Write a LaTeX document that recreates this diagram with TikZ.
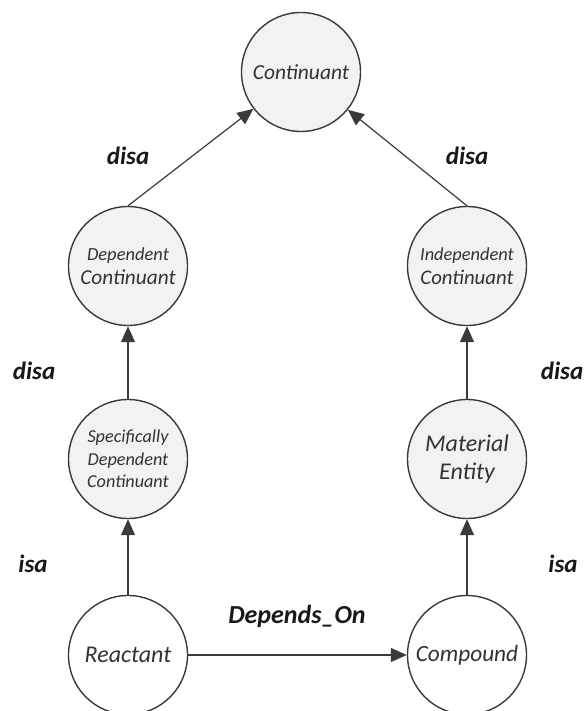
\documentclass[tikz,border=0pt]{standalone}
\usepackage{fontspec}
\setmainfont{Carlito}
\usetikzlibrary{arrows.meta}
\definecolor{nodefill}{HTML}{F2F2F2}
\definecolor{linec}{HTML}{3A3A3A}
\definecolor{textc}{HTML}{333333}
\newcommand{\fs}[2]{\fontsize{#1}{#2}\selectfont}
\tikzset{
  concept/.style={circle, draw=linec, line width=1.4pt, fill=nodefill, minimum size=119pt, inner sep=0pt, align=center, text=textc, font=\itshape},
  plain/.style={concept, fill=white},
  rel/.style={draw=linec, line width=1.2pt, -{Triangle[length=16pt,width=14pt]}},
  rlabel/.style={font=\fs{25}{28}\bfseries\itshape, text=black!90}
}
\begin{document}
\begin{tikzpicture}[x=1pt,y=-1pt]
\useasboundingbox (0,0) rectangle (586,711);
\node[concept, font=\fs{21.5}{24}\itshape] (c) at (301,72) {Continuant};
\node[concept, font=\fs{21.3}{24}\itshape] (dc) at (128,266) {{\fs{18.5}{24}Dependent}\\Continuant};
\node[concept, font=\fs{20.8}{24}\itshape] (ic) at (467,266) {{\fs{18.4}{24}Independent}\\Continuant};
\node[concept, font=\fs{18.2}{22.5}\itshape] (sdc) at (128,459) {Specifically\\Dependent\\Continuant};
\node[concept, font=\fs{24}{28}\itshape] (me) at (467,459) {Material\\Entity};
\node[plain, font=\fs{24}{26}\itshape] (r) at (128,655) {Reactant};
\node[plain, font=\fs{23.3}{26}\itshape] (cp) at (467,655) {Compound};

\draw[rel] (dc.north) -- (c);
\draw[rel] (ic.north) -- (c);
\draw[rel] (sdc) -- (dc);
\draw[rel] (r) -- (sdc);
\draw[rel] (me) -- (ic);
\draw[rel] (cp) -- (me);
\draw[rel] (r) -- (cp);

\node[rlabel] (l1) at (128,156) {disa};
\node[rlabel] (l2) at (467,156) {disa};
\node[rlabel] (l3) at (34,371) {disa};
\node[rlabel] (l4) at (562,371) {disa};
\node[rlabel] (l5) at (33,564) {isa};
\node[rlabel] (l6) at (563,564) {isa};
\node[rlabel, font=\fs{26}{28}\bfseries\itshape] (l7) at (297,616) {Depends\_On};
\end{tikzpicture}
\end{document}
